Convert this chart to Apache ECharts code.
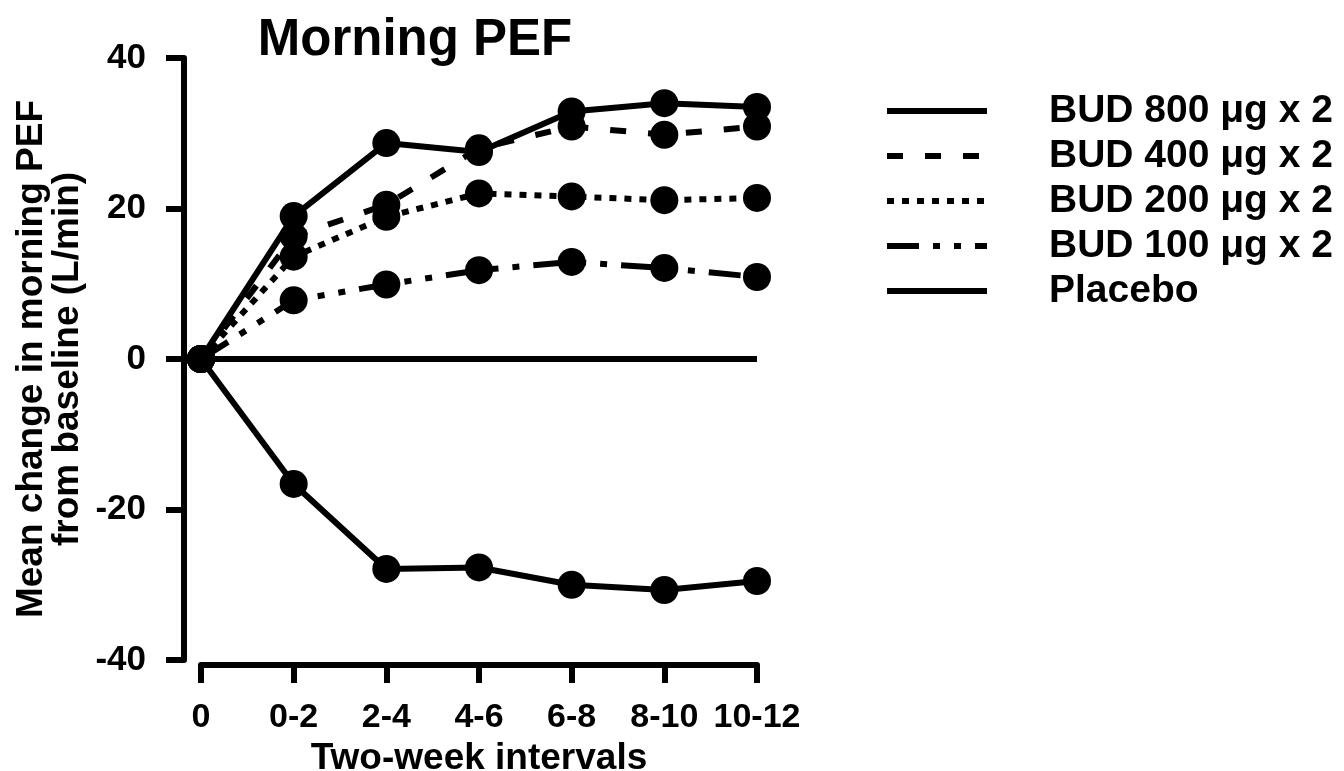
<!DOCTYPE html>
<html>
<head>
<meta charset="utf-8">
<script src="https://cdn.jsdelivr.net/npm/echarts@6/dist/echarts.min.js"></script>
<style>
html,body{margin:0;padding:0;background:#fff;}
#c{width:1344px;height:771px;}
</style>
</head>
<body>
<div id="c"></div>
<script>
const categories = ['0', '0-2', '2-4', '4-6', '6-8', '8-10', '10-12'];
const bud800 = [0, 19.0, 28.7, 27.5, 32.9, 34.0, 33.5];
const bud400 = [0, 16.3, 20.5, 28.0, 30.9, 29.8, 30.9];
const bud200 = [0, 13.6, 18.9, 22.0, 21.6, 21.1, 21.4];
const bud100 = [0, 7.8, 9.9, 11.8, 12.9, 12.1, 10.9];
const placebo = [0, -16.6, -27.9, -27.7, -30.0, -30.7, -29.5];
const yTicks = [-40, -20, 0, 20, 40];
const seriesNames = ['BUD 800 \u03bcg x 2', 'BUD 400 \u03bcg x 2', 'BUD 200 \u03bcg x 2', 'BUD 100 \u03bcg x 2', 'Placebo'];

const FONT = '"Liberation Sans", Arial, sans-serif';
const chart = echarts.init(document.getElementById('c'), null, {renderer: 'canvas'});

function mk(name, data, dash) {
  return {
    name: name,
    type: 'line',
    data: data,
    symbol: 'circle',
    symbolSize: 28,
    itemStyle: {color: '#000'},
    lineStyle: {color: '#000', width: 6, type: dash, cap: 'butt'},
    z: 3
  };
}

const series = [
  mk(seriesNames[0], bud800, 'solid'),
  mk(seriesNames[1], bud400, [16, 22]),
  mk(seriesNames[2], bud200, [7, 8]),
  mk(seriesNames[3], bud100, [32, 14, 7, 14, 7, 14]),
  mk(seriesNames[4], placebo, 'solid')
];
series[4].markLine = {
  silent: true,
  symbol: ['none', 'none'],
  label: {show: false},
  lineStyle: {color: '#000', width: 6, type: 'solid'},
  data: [{yAxis: 0}]
};

chart.setOption({
  animation: false,
  backgroundColor: '#fff',
  title: {
    text: 'Morning PEF',
    left: 410, top: 10, textAlign: 'center',
    textStyle: {fontFamily: FONT, fontWeight: 'bold', fontSize: 51, color: '#000'}
  },
  legend: {
    orient: 'vertical',
    left: 879, top: 86,
    itemWidth: 100, itemHeight: 30, itemGap: 5,
    data: seriesNames,
    itemStyle: {color: 'rgba(0,0,0,0)', borderWidth: 0},
    lineStyle: {width: 6, color: '#000'},
    textStyle: {fontFamily: FONT, fontWeight: 'bold', fontSize: 39, lineHeight: 40, color: '#000', padding: [0, 0, 0, 57]}
  },
  grid: {left: 201, top: 58, width: 556, height: 602, containLabel: false, outerBoundsMode: 'none'},
  xAxis: {
    type: 'category',
    data: categories,
    boundaryGap: false,
    offset: 5,
    axisLine: {onZero: false, lineStyle: {color: '#000', width: 6}},
    axisTick: {length: 18, interval: 0, lineStyle: {color: '#000', width: 6}},
    axisLabel: {interval: 0, fontFamily: FONT, fontWeight: 'bold', fontSize: 34, color: '#000', margin: 36},
    name: 'Two-week intervals',
    nameLocation: 'middle',
    nameGap: 73,
    nameTextStyle: {fontFamily: FONT, fontWeight: 'bold', fontSize: 37, color: '#000'},
    splitLine: {show: false}
  },
  yAxis: {
    type: 'value',
    min: yTicks[0], max: yTicks[yTicks.length - 1], interval: 20,
    offset: 17,
    axisLine: {show: true, lineStyle: {color: '#000', width: 6}},
    axisTick: {show: true, length: 18, lineStyle: {color: '#000', width: 6}},
    axisLabel: {fontFamily: FONT, fontWeight: 'bold', fontSize: 35, color: '#000', margin: 38},
    splitLine: {show: false},
    name: 'Mean change in morning PEF\nfrom baseline (L/min)',
    nameLocation: 'middle',
    nameRotate: 90,
    nameGap: 98,
    nameTextStyle: {fontFamily: FONT, fontWeight: 'bold', fontSize: 37, color: '#000', lineHeight: 36}
  },
  series: series
});
</script>
</body>
</html>
